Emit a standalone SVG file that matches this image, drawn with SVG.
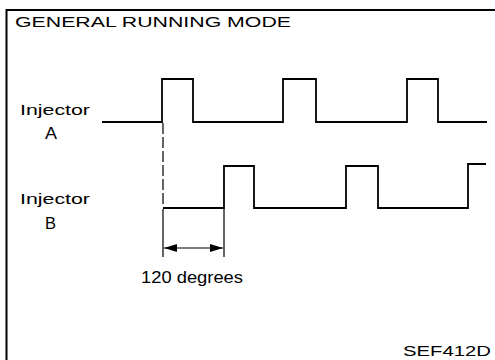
<svg xmlns="http://www.w3.org/2000/svg" width="495" height="360" viewBox="0 0 495 360">
<style>
text{font-family:"Liberation Sans",Arial,sans-serif;fill:#000}
.sig{fill:none;stroke:#000;stroke-width:1.8}
.dim{fill:none;stroke:#000;stroke-width:1.2}
</style>
<defs>
<marker id="ah" viewBox="0 0 13 8" refX="13" refY="4" markerWidth="13" markerHeight="8" markerUnits="userSpaceOnUse" orient="auto-start-reverse">
<path d="M0,0 L13,4 L0,8 Z" fill="#000"/>
</marker>
</defs>
<rect width="495" height="360" fill="#fff"/>
<g id="frame">
<path d="M6.5,360 V10 H495" fill="none" stroke="#000" stroke-width="2"/>
</g>
<g id="title"><text x="15" y="27" font-size="14" textLength="276" lengthAdjust="spacingAndGlyphs">GENERAL RUNNING MODE</text></g>
<g id="injA">
<text x="20" y="115" font-size="15.5" textLength="70" lengthAdjust="spacingAndGlyphs">Injector</text>
<text x="45" y="139" font-size="16" textLength="12" lengthAdjust="spacingAndGlyphs">A</text>
<path class="sig" d="M102,122 H162 V79 H193 V122 H283 V79 H316 V122 H407 V79 H438 V122 H487"/>
</g>
<g id="injB">
<text x="20" y="204" font-size="15.5" textLength="70" lengthAdjust="spacingAndGlyphs">Injector</text>
<text x="45" y="229" font-size="16" textLength="11" lengthAdjust="spacingAndGlyphs">B</text>
<path class="sig" d="M163,208 H224 V166 H254 V208 H346 V166 H378 V208 H468 V164 H486"/>
</g>
<g id="connectors">
<path class="dim" d="M163,123 V207" stroke-dasharray="11,3"/>
<path class="dim" d="M163,209 V257 M224,209 V257"/>
<path class="dim" d="M164,248 H223" marker-start="url(#ah)" marker-end="url(#ah)"/>
</g>
<g id="label"><text x="141" y="283" font-size="16" textLength="102" lengthAdjust="spacingAndGlyphs">120 degrees</text></g>
<g id="code"><text x="403" y="356" font-size="15" textLength="88" lengthAdjust="spacingAndGlyphs">SEF412D</text></g>
</svg>
